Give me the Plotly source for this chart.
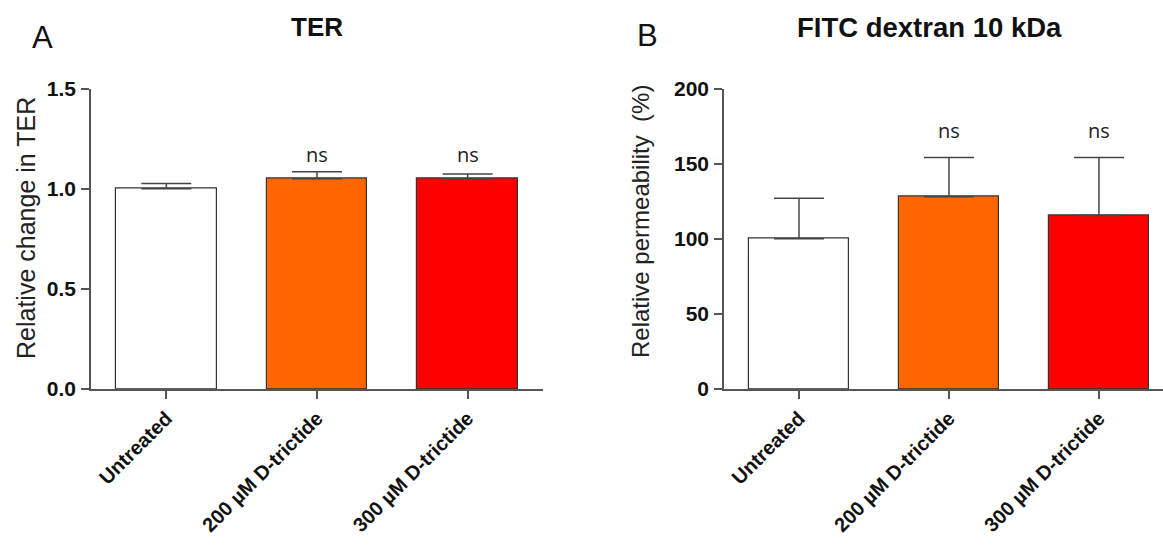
import plotly.graph_objects as go

W, H = 1163, 547

categories = ["Untreated", "200 µM D-trictide", "300 µM D-trictide"]
colors = ["#FFFFFF", "#FF6600", "#FF0000"]

ter_values = [1.00, 1.05, 1.05]
ter_err = [0.026, 0.035, 0.023]
ter_sig = ["", "ns", "ns"]

fitc_values = [100, 128, 115.5]
fitc_err = [27, 26, 38.5]
fitc_sig = ["", "ns", "ns"]

ter_ticks = [0, 0.5, 1.0, 1.5]
fitc_ticks = [0, 50, 100, 150, 200]

FONT = "Arial, Liberation Sans, sans-serif"
NSFONT = "Open Sans, Noto Sans, sans-serif"
AXC = "#555555"

fig = go.Figure()

def px_x(p):
    return p / W

def px_y(p):
    return (H - p) / H

for vals, errs, xa, ya in [(ter_values, ter_err, "x", "y"), (fitc_values, fitc_err, "x2", "y2")]:
    fig.add_trace(go.Bar(
        x=categories, y=vals, xaxis=xa, yaxis=ya,
        width=0.667,
        marker=dict(color=colors, line=dict(color="#333333", width=1.2)),
        error_y=dict(type="data", symmetric=False, array=errs, arrayminus=[0] * len(errs),
                     color="#444444", thickness=1.5, width=25),
        showlegend=False, hoverinfo="skip",
    ))

ydom = [px_y(389), px_y(88.5)]
xtickfont = dict(family=FONT, size=20, color="#111111", weight="bold")
ytickfont = dict(family=FONT, size=21, color="#111111", weight="bold")
common_x = dict(type="category", showline=True, linecolor=AXC, linewidth=1.5,
                ticks="outside", ticklen=8, tickcolor=AXC, tickwidth=1.5,
                tickangle=-45, tickfont=xtickfont, automargin=False,
                showgrid=False, zeroline=False, fixedrange=True)
common_y = dict(showline=True, linecolor=AXC, linewidth=1.5,
                ticks="outside", ticklen=8, tickcolor=AXC, tickwidth=1.5,
                tickfont=ytickfont, automargin=False, ticklabelstandoff=1,
                showgrid=False, zeroline=False, fixedrange=True)

fig.update_layout(
    width=W, height=H, margin=dict(l=0, r=0, t=0, b=0, autoexpand=False),
    paper_bgcolor="white", plot_bgcolor="white",
    bargap=0,
    xaxis=dict(domain=[px_x(91), px_x(543)], range=[-0.5, 2.5], anchor="y", **common_x),
    yaxis=dict(domain=ydom, range=[0, 1.5], tickvals=ter_ticks, tickformat=".1f", anchor="x", **common_y),
    xaxis2=dict(domain=[px_x(724), 1.0], range=[-0.5, 2.427], anchor="y2", **common_x),
    yaxis2=dict(domain=ydom, range=[0, 200], tickvals=fitc_ticks, anchor="x2", **common_y),
)

ann = []
# significance labels
for i, s in enumerate(ter_sig):
    if s:
        ann.append(dict(x=categories[i], y=1.173, xref="x", yref="y", text=s, showarrow=False,
                        font=dict(family=NSFONT, size=20, color="#222222"), yanchor="middle"))
for i, s in enumerate(fitc_sig):
    if s:
        ann.append(dict(x=categories[i], y=172, xref="x2", yref="y2", text=s, showarrow=False,
                        font=dict(family=NSFONT, size=20, color="#222222"), yanchor="middle"))

# titles
ann.append(dict(x=px_x(317), y=px_y(27), xref="paper", yref="paper", text="<b>TER</b>",
                showarrow=False, font=dict(family=FONT, size=26, color="#111111"),
                xanchor="center", yanchor="middle"))
ann.append(dict(x=px_x(929), y=px_y(27), xref="paper", yref="paper", text="<b>FITC dextran 10 kDa</b>",
                showarrow=False, font=dict(family=FONT, size=27.5, color="#111111"),
                xanchor="center", yanchor="middle"))
# panel letters
ann.append(dict(x=px_x(43), y=px_y(37), xref="paper", yref="paper", text="A",
                showarrow=False, font=dict(family=FONT, size=31, color="#111111"),
                xanchor="center", yanchor="middle"))
ann.append(dict(x=px_x(647), y=px_y(36), xref="paper", yref="paper", text="B",
                showarrow=False, font=dict(family=FONT, size=31, color="#111111"),
                xanchor="center", yanchor="middle"))
# y-axis titles
ann.append(dict(x=px_x(26), y=px_y(228), xref="paper", yref="paper", text="Relative change in TER",
                textangle=-90, showarrow=False, font=dict(family=FONT, size=25, color="#222222"),
                xanchor="center", yanchor="middle"))
ann.append(dict(x=px_x(640), y=px_y(222), xref="paper", yref="paper", text="Relative permeability  (%)",
                textangle=-90, showarrow=False, font=dict(family=FONT, size=24, color="#222222"),
                xanchor="center", yanchor="middle"))

fig.update_layout(annotations=ann)

fig.write_html("out.html")
